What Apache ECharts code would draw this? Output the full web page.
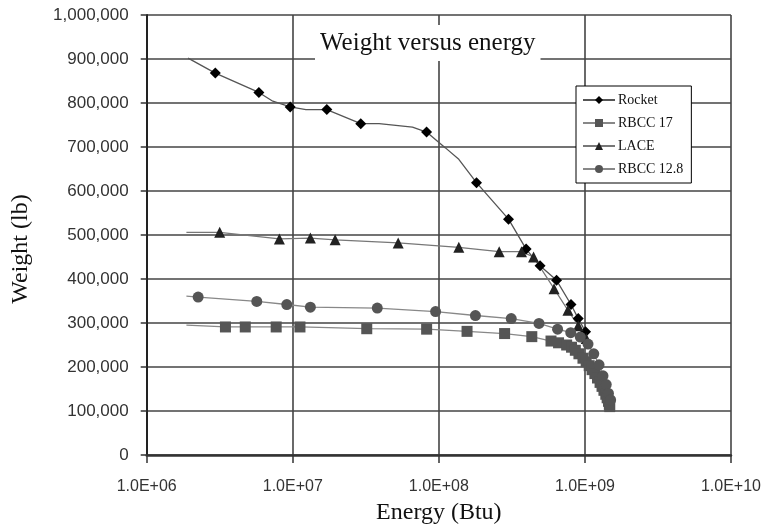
<!DOCTYPE html>
<html>
<head>
<meta charset="utf-8">
<script src="https://cdn.jsdelivr.net/npm/echarts@6/dist/echarts.min.js"></script>
<style>
  html, body { margin: 0; padding: 0; background: #fff; }
  #chart { width: 764px; height: 530px; }
</style>
</head>
<body>
<div id="chart"></div>
<script>
// 数据：能量 (Btu) 与重量 (lb)
const seriesNames = ["Rocket", "RBCC 17", "LACE", "RBCC 12.8"];

const rocketEnergy = [1.92e6, 2.95e6, 5.86e6, 7.3e6, 9.6e6, 1.23e7, 1.71e7, 2.92e7, 3.9e7, 6.6e7, 8.24e7, 1.11e8, 1.37e8, 1.81e8, 3.0e8, 3.96e8, 4.93e8, 6.4e8, 8.03e8, 9.0e8, 1.01e9];
const rocketWeight = [902000, 868000, 824000, 804000, 791000, 785000, 785000, 753000, 753000, 745000, 734000, 698000, 672000, 619000, 536000, 468000, 430000, 397000, 342000, 310000, 280000];
const rocketNoMark = [0, 3, 5, 8, 9, 11, 12];

const rbcc17Energy = [1.87e6, 3.46e6, 4.73e6, 7.7e6, 1.12e7, 3.21e7, 8.25e7, 1.56e8, 2.82e8, 4.33e8, 5.86e8, 6.6e8, 7.5e8, 8.1e8, 8.6e8, 9.1e8, 9.7e8, 1.02e9, 1.07e9, 1.12e9, 1.17e9, 1.22e9, 1.27e9, 1.31e9, 1.35e9, 1.39e9, 1.42e9, 1.45e9, 1.47e9, 1.48e9];
const rbcc17Weight = [295000, 291000, 291000, 291000, 291000, 287000, 286000, 281000, 276000, 269000, 259000, 255000, 250000, 245000, 238000, 230000, 220000, 212000, 203000, 194000, 185000, 175000, 165000, 156000, 147000, 138000, 130000, 122000, 115000, 110000];
const rbcc17NoMark = [0];

const laceEnergy = [1.87e6, 3.16e6, 8.1e6, 1.32e7, 1.95e7, 5.27e7, 1.37e8, 2.59e8, 3.68e8, 4.45e8, 6.15e8, 7.65e8, 9.0e8, 1.02e9];
const laceWeight = [506000, 506000, 491000, 493000, 489000, 482000, 472000, 462000, 462000, 450000, 378000, 329000, 294000, 265000];
const laceNoMark = [0];

const rbcc128Energy = [1.87e6, 2.25e6, 5.67e6, 9.1e6, 1.32e7, 3.79e7, 9.5e7, 1.78e8, 3.13e8, 4.85e8, 6.5e8, 8.0e8, 9.3e8, 1.05e9, 1.15e9, 1.25e9, 1.33e9, 1.4e9, 1.45e9, 1.5e9];
const rbcc128Weight = [361000, 359000, 349000, 342000, 336000, 334000, 326000, 317000, 310000, 299000, 286000, 278000, 268000, 252000, 230000, 205000, 180000, 160000, 140000, 125000];
const rbcc128NoMark = [0];

const xTickExponents = [6, 7, 8, 9, 10];

const serifFont = "'Liberation Serif', 'Times New Roman', serif";
const sansFont = "'Liberation Sans', Arial, sans-serif";

/** 组合数据点，无标记点隐藏符号 */
const buildData = (energy, weight, noMark) =>
  energy.map((e, i) => {
    const item = { value: [e, weight[i]] };
    if (noMark.includes(i)) item.symbol = "none";
    return item;
  });

const makeSeries = (name, data, symbol, size, color, lineColor) => ({
  name: name,
  type: "line",
  data: data,
  symbol: symbol,
  symbolSize: size,
  showAllSymbol: true,
  itemStyle: { color: color },
  lineStyle: { color: lineColor, width: 1.3 },
  emphasis: { disabled: true },
  z: 3
});

const chart = echarts.init(document.getElementById("chart"));

const option = {
  animation: false,
  backgroundColor: "#fff",
  title: {
    text: "Weight versus energy",
    left: 315,
    top: 25,
    padding: [6, 5, 5, 5],
    backgroundColor: "#fff",
    textStyle: {
      fontFamily: serifFont,
      fontSize: 25,
      fontWeight: "normal",
      color: "#111"
    }
  },
  legend: {
    data: seriesNames,
    orient: "vertical",
    left: 576,
    top: 86,
    itemWidth: 32,
    itemHeight: 10,
    itemGap: 9,
    padding: [7, 8, 7, 6],
    backgroundColor: "#fff",
    borderColor: "#000",
    borderWidth: 1,
    textStyle: {
      fontFamily: serifFont,
      fontSize: 14,
      color: "#111",
      padding: [0, 0, 0, -2]
    }
  },
  grid: {
    left: 146.7,
    right: 30.7,
    top: 15,
    bottom: 73,
    containLabel: false
  },
  xAxis: {
    type: "log",
    logBase: 10,
    min: 1e6,
    max: 1e10,
    name: "Energy (Btu)",
    nameLocation: "middle",
    nameGap: 46,
    nameTextStyle: {
      fontFamily: serifFont,
      fontSize: 24,
      color: "#111"
    },
    axisLine: { lineStyle: { color: "#333", width: 2.5 } },
    axisTick: { show: true, length: 8, lineStyle: { color: "#333", width: 1.5 } },
    axisLabel: {
      margin: 24,
      fontFamily: sansFont,
      fontSize: 16,
      color: "#333",
      formatter: (v) => {
        const exp = Math.round(Math.log10(v));
        if (!xTickExponents.includes(exp)) return "";
        return "1.0E+" + String(exp).padStart(2, "0");
      }
    },
    splitLine: { show: true, lineStyle: { color: "#444", width: 1.6 } }
  },
  yAxis: {
    type: "value",
    min: 0,
    max: 1000000,
    interval: 100000,
    name: "Weight (lb)",
    nameLocation: "middle",
    nameGap: 114,
    nameTextStyle: {
      fontFamily: serifFont,
      fontSize: 24,
      color: "#111",
      padding: [0, 28, 0, 0]
    },
    axisLine: { show: true, lineStyle: { color: "#222", width: 2 } },
    axisTick: { show: true, length: 6, lineStyle: { color: "#333", width: 1.5 } },
    axisLabel: {
      margin: 18,
      fontFamily: sansFont,
      fontSize: 17,
      color: "#333",
      formatter: (v) => v.toLocaleString("en-US")
    },
    splitLine: { show: true, lineStyle: { color: "#444", width: 1.6 } }
  },
  series: [
    makeSeries("Rocket", buildData(rocketEnergy, rocketWeight, rocketNoMark), "diamond", 11, "#000", "#555"),
    makeSeries("RBCC 17", buildData(rbcc17Energy, rbcc17Weight, rbcc17NoMark), "rect", 11, "#555", "#888"),
    makeSeries("LACE", buildData(laceEnergy, laceWeight, laceNoMark), "triangle", 11, "#222", "#777"),
    makeSeries("RBCC 12.8", buildData(rbcc128Energy, rbcc128Weight, rbcc128NoMark), "circle", 11, "#555", "#888")
  ]
};

chart.setOption(option);
</script>
</body>
</html>
